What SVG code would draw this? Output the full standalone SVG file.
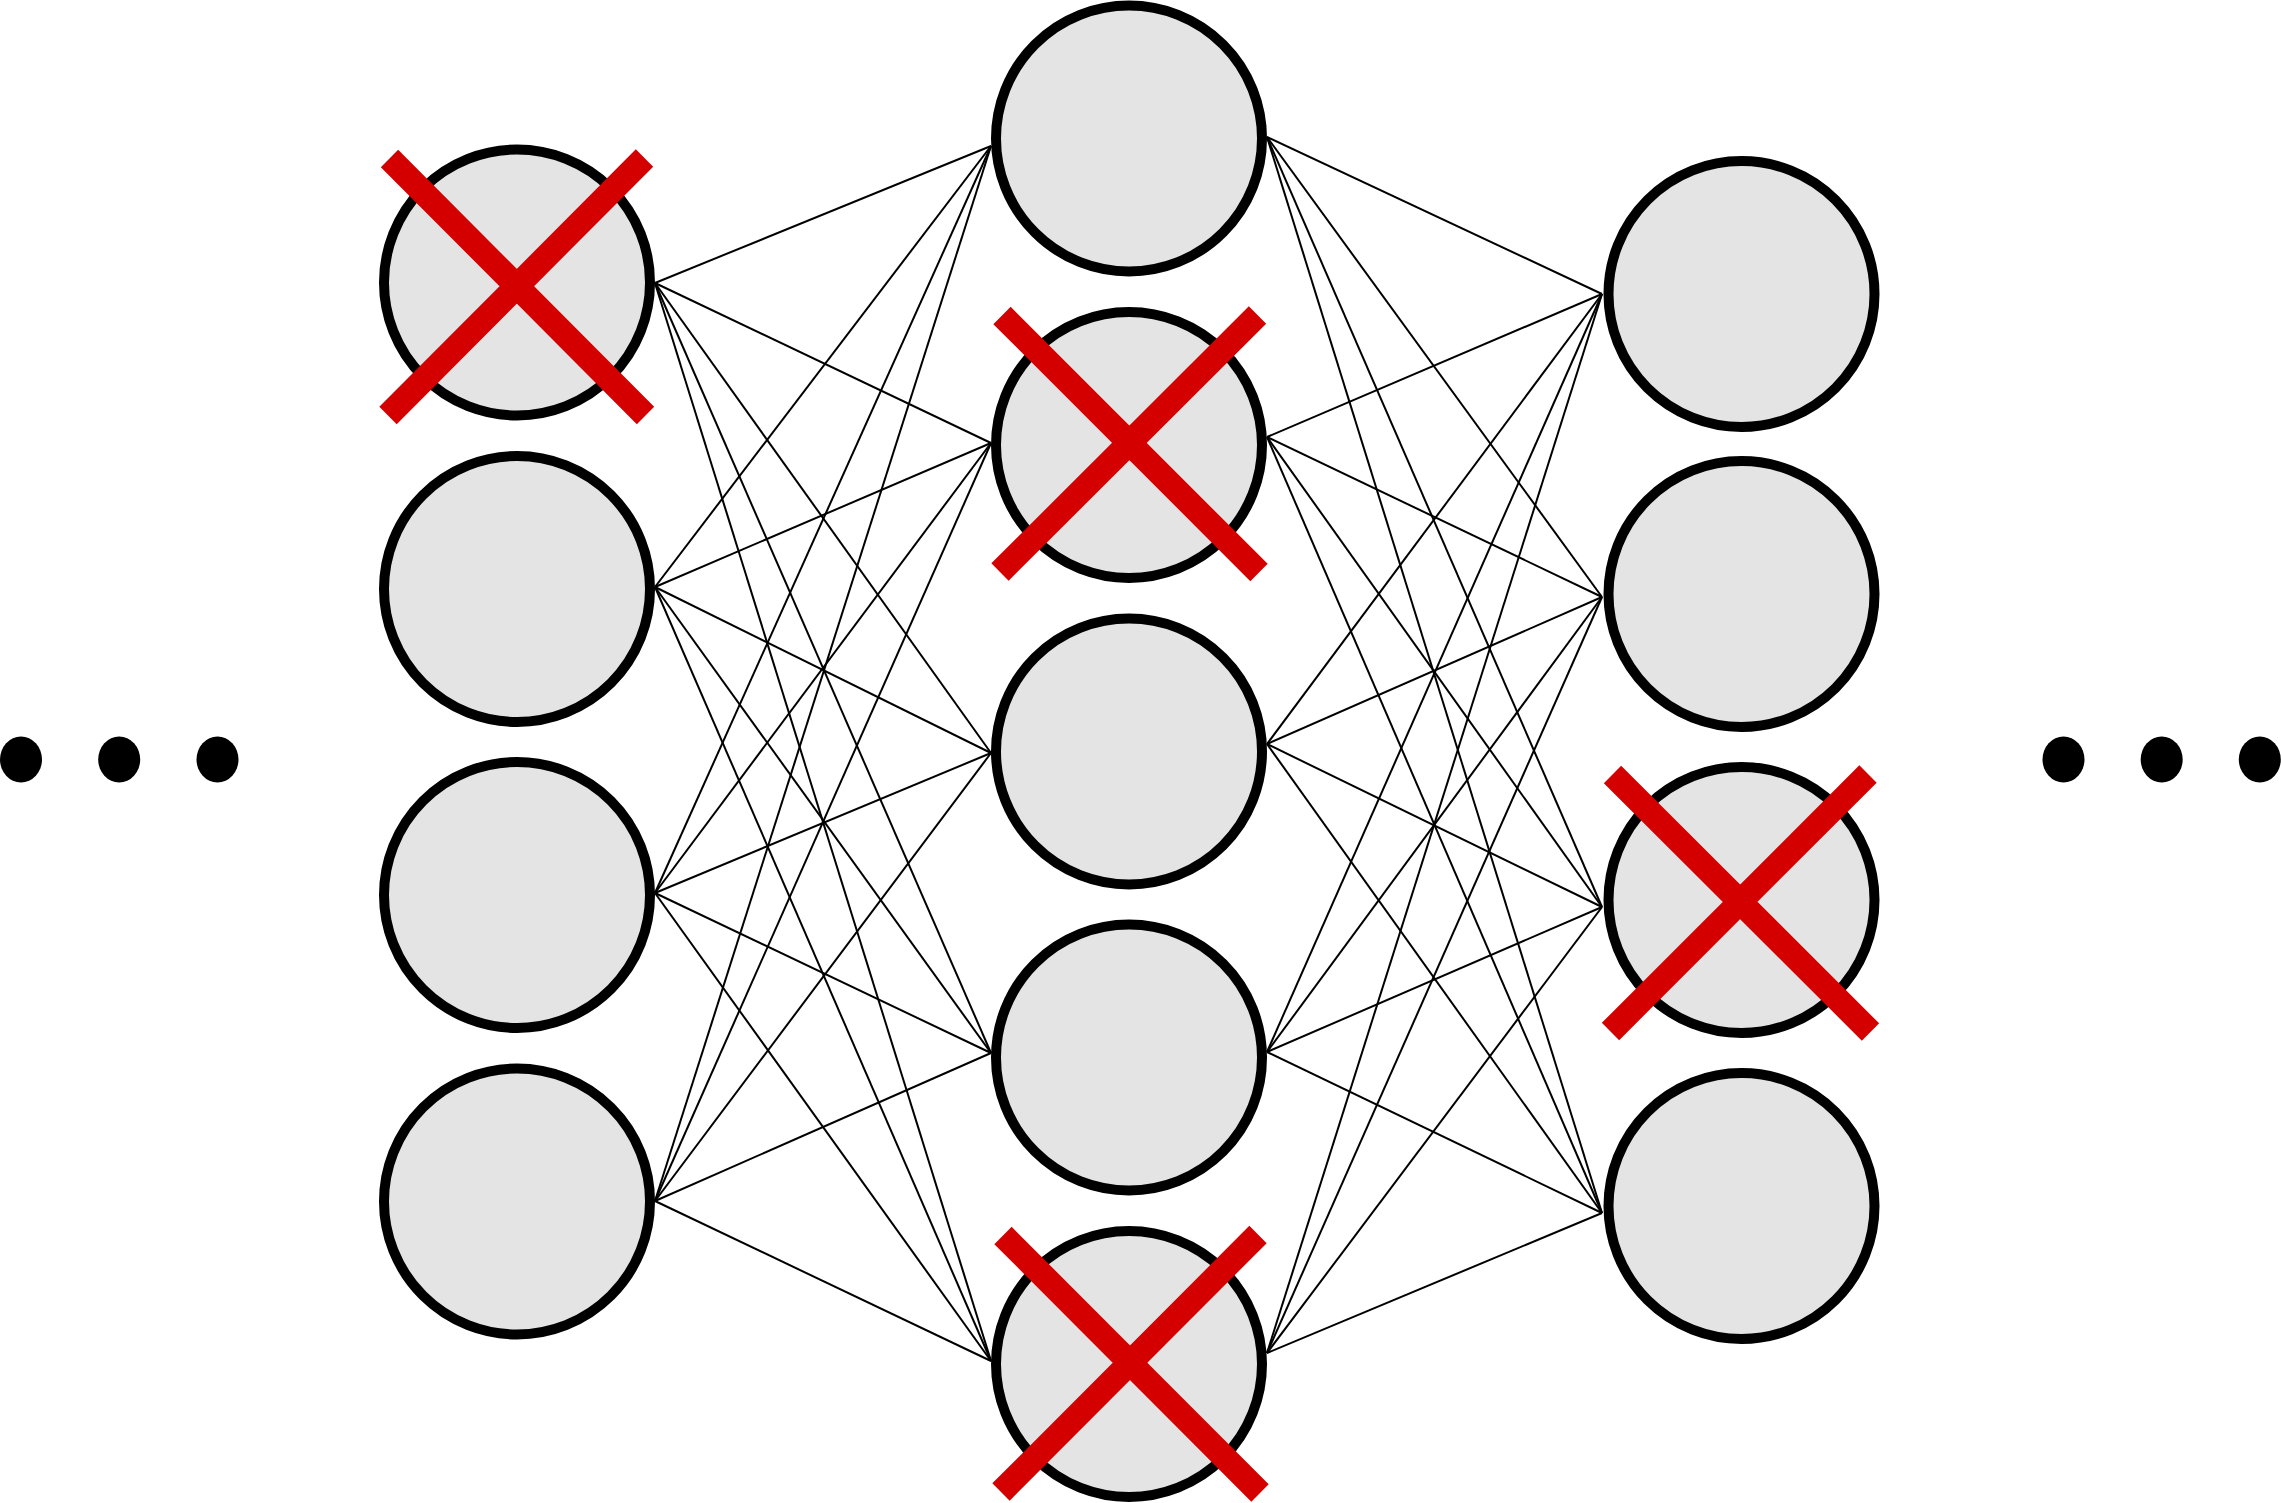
<svg xmlns="http://www.w3.org/2000/svg" width="2281" height="1503" viewBox="0 0 2281 1503">
<style>
.node{fill:#e4e4e4;stroke:#000;stroke-width:10}
.x{stroke:#d40000;stroke-width:24.5;stroke-linecap:butt;fill:none}
.c line{stroke:#000;stroke-width:2}
.dot{fill:#000}
</style>
<rect width="2281" height="1503" fill="#fff"/>
<g id="connectors" class="c">
<line x1="655" y1="283" x2="991" y2="146"/><line x1="655" y1="283" x2="991" y2="443"/><line x1="655" y1="283" x2="991" y2="753"/><line x1="655" y1="283" x2="991" y2="1053"/><line x1="655" y1="283" x2="991" y2="1361"/>
<line x1="655" y1="587" x2="991" y2="146"/><line x1="655" y1="587" x2="991" y2="443"/><line x1="655" y1="587" x2="991" y2="753"/><line x1="655" y1="587" x2="991" y2="1053"/><line x1="655" y1="587" x2="991" y2="1361"/>
<line x1="655" y1="893" x2="991" y2="146"/><line x1="655" y1="893" x2="991" y2="443"/><line x1="655" y1="893" x2="991" y2="753"/><line x1="655" y1="893" x2="991" y2="1053"/><line x1="655" y1="893" x2="991" y2="1361"/>
<line x1="655" y1="1201" x2="991" y2="146"/><line x1="655" y1="1201" x2="991" y2="443"/><line x1="655" y1="1201" x2="991" y2="753"/><line x1="655" y1="1201" x2="991" y2="1053"/><line x1="655" y1="1201" x2="991" y2="1361"/>
<line x1="1267" y1="137" x2="1602" y2="294"/><line x1="1267" y1="137" x2="1602" y2="597"/><line x1="1267" y1="137" x2="1602" y2="907"/><line x1="1267" y1="137" x2="1602" y2="1213"/>
<line x1="1267" y1="437" x2="1602" y2="294"/><line x1="1267" y1="437" x2="1602" y2="597"/><line x1="1267" y1="437" x2="1602" y2="907"/><line x1="1267" y1="437" x2="1602" y2="1213"/>
<line x1="1267" y1="744" x2="1602" y2="294"/><line x1="1267" y1="744" x2="1602" y2="597"/><line x1="1267" y1="744" x2="1602" y2="907"/><line x1="1267" y1="744" x2="1602" y2="1213"/>
<line x1="1267" y1="1052" x2="1602" y2="294"/><line x1="1267" y1="1052" x2="1602" y2="597"/><line x1="1267" y1="1052" x2="1602" y2="907"/><line x1="1267" y1="1052" x2="1602" y2="1213"/>
<line x1="1267" y1="1353" x2="1602" y2="294"/><line x1="1267" y1="1353" x2="1602" y2="597"/><line x1="1267" y1="1353" x2="1602" y2="907"/><line x1="1267" y1="1353" x2="1602" y2="1213"/>
</g>
<g id="in1"><circle class="node" cx="517" cy="282.5" r="133"/><path class="x" d="M389.5 158.5L645.5 415.5M644.5 158L388 415.5"/></g>
<g id="in2"><circle class="node" cx="517" cy="589" r="133"/></g>
<g id="in3"><circle class="node" cx="517" cy="895" r="133"/></g>
<g id="in4"><circle class="node" cx="517" cy="1201.5" r="133"/></g>
<g id="h1"><circle class="node" cx="1129" cy="138.5" r="133"/></g>
<g id="h2"><circle class="node" cx="1129" cy="445" r="133"/><path class="x" d="M1002 315.5L1259 572.5M1257.5 315L1000 572"/></g>
<g id="h3"><circle class="node" cx="1129" cy="751.5" r="133"/></g>
<g id="h4"><circle class="node" cx="1129" cy="1057.5" r="133"/></g>
<g id="h5"><circle class="node" cx="1129" cy="1364" r="133"/><path class="x" d="M1003 1235.5L1260 1493M1258 1234.5L1001 1492"/></g>
<g id="out1"><circle class="node" cx="1741.5" cy="294" r="133"/></g>
<g id="out2"><circle class="node" cx="1741.5" cy="594" r="133"/></g>
<g id="out3"><circle class="node" cx="1741.5" cy="900" r="133"/><path class="x" d="M1612.5 774.5L1870.5 1032M1868 774L1610.5 1031.5"/></g>
<g id="out4"><circle class="node" cx="1741.5" cy="1206" r="133"/></g>
<g id="dots-left"><ellipse class="dot" cx="21" cy="759.5" rx="21" ry="23"/><ellipse class="dot" cx="119.2" cy="759.5" rx="21" ry="23"/><ellipse class="dot" cx="217.5" cy="759.5" rx="21" ry="23"/></g>
<g id="dots-right"><ellipse class="dot" cx="2063.5" cy="759.5" rx="21" ry="23"/><ellipse class="dot" cx="2161.7" cy="759.5" rx="21" ry="23"/><ellipse class="dot" cx="2259.8" cy="759.5" rx="21" ry="23"/></g>
</svg>
